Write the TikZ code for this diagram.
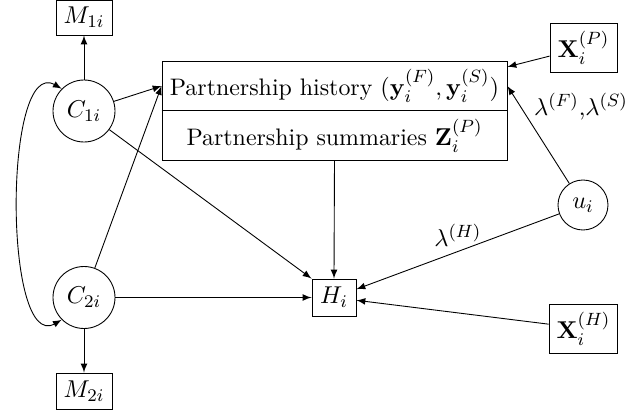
\documentclass[tikz,border=0pt]{standalone}
\usetikzlibrary{arrows}
\begin{document}
\begin{tikzpicture}[x=0.45pt,y=-0.45pt,
  every node/.style={inner sep=2pt,font=\fontsize{10.75}{13}\selectfont},
  box/.style={draw,rectangle,thin},
  circ/.style={draw,circle,minimum size=27.9pt,inner sep=0pt},
  arr/.style={-latex,thin}]
\useasboundingbox (0,0) rectangle (632,416);
\node[box,minimum width=25.2pt,minimum height=15.75pt] (M1) at (84,17.5) {$M_{1i}$};
\node[box,minimum width=25.2pt,minimum height=16.2pt] (M2) at (84,391) {$M_{2i}$};
\node[circ] (C1) at (84,111) {$C_{1i}$};
\node[circ] (C2) at (84,297.5) {$C_{2i}$};
\node[box,minimum width=155.25pt,minimum height=44.55pt] (P) at (334.5,110.5) {};
\node[minimum width=155.25pt,minimum height=22.3pt] (hist) at (334.5,86) {Partnership history $(\mathbf{y}_i^{(F)},\mathbf{y}_i^{(S)})$};
\node[minimum width=155.25pt,minimum height=22.3pt] (summ) at (334.5,135.5) {Partnership summaries $\mathbf{Z}_i^{(P)}$};
\draw[thin] (P.west) -- (P.east);
\node[box,minimum width=30.15pt,minimum height=22.05pt] (XP) at (583.5,47.5) {$\mathbf{X}_i^{(P)}$};
\node[circ,minimum size=22.5pt] (u) at (583,205) {$u_i$};
\node[box,minimum width=19.8pt,minimum height=16.65pt] (H) at (334,297.5) {$H_i$};
\node[box,minimum width=31pt,minimum height=22pt] (XH) at (583.5,328.5) {$\mathbf{X}_i^{(H)}$};
\draw[arr] (C1) -- (M1);
\draw[arr] (C2) -- (M2);
\draw[arr] (C1) -- (hist.west);
\draw[arr] (C2) -- (hist.west);
\draw[arr] (C1) -- (H.north west);
\draw[arr] (C2) -- (H);
\draw[arr] (P.south) -- (H.north);
\draw[arr] (XP) -- (P);
\draw[arr] (u) -- (hist.east) node[pos=0.79,anchor=west,xshift=4pt] {$\lambda^{(F)}$,$\lambda^{(S)}$};
\draw[arr] (u) -- (H) node[midway,above] {$\lambda^{(H)}$};
\draw[arr] (XH) -- (H);
\draw[latex-latex,thin] (C1.135) to[out=150,in=210,looseness=0.75] (C2.225);
\end{tikzpicture}
\end{document}
